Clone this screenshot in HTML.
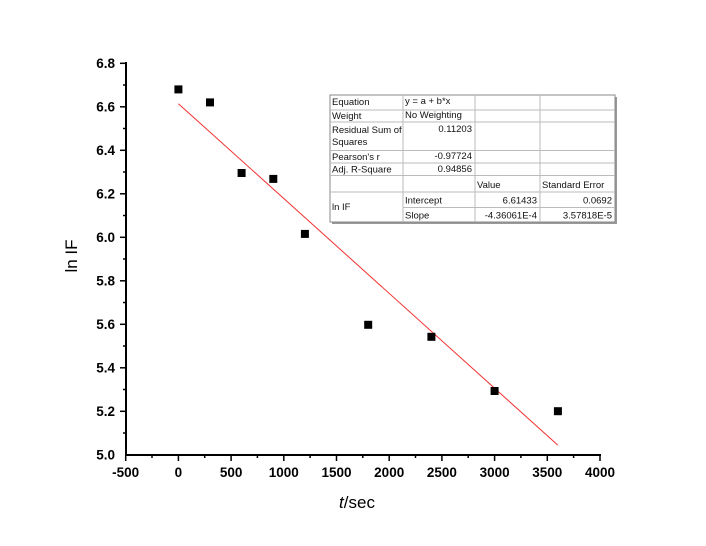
<!DOCTYPE html>
<html><head><style>
body{margin:0;background:#fff;}
svg{display:block;font-family:"Liberation Sans",Arial,sans-serif;}
.t{font-size:13.5px;font-weight:bold;fill:#000;}
.s{font-size:9.5px;fill:#111;}
</style></head><body>
<svg width="706" height="546" viewBox="0 0 706 546">
<rect width="706" height="546" fill="#fff"/>
<g stroke="#000" stroke-width="2">
<line x1="126" y1="62" x2="126" y2="455.5"/>
<line x1="125" y1="455" x2="601" y2="455"/>
</g>
<g stroke="#000" stroke-width="1.5" id="ticks">
<!-- y major -->
<line x1="120" y1="63.3" x2="126" y2="63.3"/><line x1="120" y1="106.8" x2="126" y2="106.8"/>
<line x1="120" y1="150.3" x2="126" y2="150.3"/><line x1="120" y1="193.8" x2="126" y2="193.8"/>
<line x1="120" y1="237.3" x2="126" y2="237.3"/><line x1="120" y1="280.8" x2="126" y2="280.8"/>
<line x1="120" y1="324.3" x2="126" y2="324.3"/><line x1="120" y1="367.8" x2="126" y2="367.8"/>
<line x1="120" y1="411.3" x2="126" y2="411.3"/>
<!-- y minor -->
<line x1="123" y1="85" x2="126" y2="85"/><line x1="123" y1="128.5" x2="126" y2="128.5"/>
<line x1="123" y1="172" x2="126" y2="172"/><line x1="123" y1="215.5" x2="126" y2="215.5"/>
<line x1="123" y1="259" x2="126" y2="259"/><line x1="123" y1="302.5" x2="126" y2="302.5"/>
<line x1="123" y1="346" x2="126" y2="346"/><line x1="123" y1="389.5" x2="126" y2="389.5"/>
<line x1="123" y1="433" x2="126" y2="433"/>
<!-- x major -->
<line x1="125.7" y1="455" x2="125.7" y2="461"/><line x1="178.4" y1="455" x2="178.4" y2="461"/>
<line x1="231.1" y1="455" x2="231.1" y2="461"/><line x1="283.8" y1="455" x2="283.8" y2="461"/>
<line x1="336.5" y1="455" x2="336.5" y2="461"/><line x1="389.2" y1="455" x2="389.2" y2="461"/>
<line x1="441.9" y1="455" x2="441.9" y2="461"/><line x1="494.6" y1="455" x2="494.6" y2="461"/>
<line x1="547.3" y1="455" x2="547.3" y2="461"/><line x1="600" y1="455" x2="600" y2="461"/>
<!-- x minor -->
<line x1="152" y1="455" x2="152" y2="458"/><line x1="204.7" y1="455" x2="204.7" y2="458"/>
<line x1="257.4" y1="455" x2="257.4" y2="458"/><line x1="310.1" y1="455" x2="310.1" y2="458"/>
<line x1="362.8" y1="455" x2="362.8" y2="458"/><line x1="415.5" y1="455" x2="415.5" y2="458"/>
<line x1="468.2" y1="455" x2="468.2" y2="458"/><line x1="520.9" y1="455" x2="520.9" y2="458"/>
<line x1="573.6" y1="455" x2="573.6" y2="458"/>
</g>
<g class="t" text-anchor="end">
<text x="115" y="68">6.8</text><text x="115" y="111.5">6.6</text><text x="115" y="155">6.4</text>
<text x="115" y="198.5">6.2</text><text x="115" y="242">6.0</text><text x="115" y="285.5">5.8</text>
<text x="115" y="329">5.6</text><text x="115" y="372.5">5.4</text><text x="115" y="416">5.2</text>
<text x="115" y="459.5">5.0</text>
</g>
<g class="t" text-anchor="middle">
<text x="125.7" y="477">-500</text><text x="178.4" y="477">0</text><text x="231.1" y="477">500</text>
<text x="283.8" y="477">1000</text><text x="336.5" y="477">1500</text><text x="389.2" y="477">2000</text>
<text x="441.9" y="477">2500</text><text x="494.6" y="477">3000</text><text x="547.3" y="477">3500</text>
<text x="600" y="477">4000</text>
</g>
<text x="357" y="508" text-anchor="middle" font-size="17"><tspan font-style="italic">t</tspan>/sec</text>
<text transform="translate(77,256) rotate(-90)" text-anchor="middle" font-size="17">ln IF</text>
<line x1="178.4" y1="103.7" x2="557.8" y2="445.1" stroke="#f03030" stroke-width="1"/>
<g fill="#000">
<rect x="174.4" y="85.4" width="8" height="8"/><rect x="206" y="98.4" width="8" height="8"/>
<rect x="237.6" y="169" width="8" height="8"/><rect x="269.3" y="174.9" width="8" height="8"/>
<rect x="300.9" y="229.9" width="8" height="8"/><rect x="364.2" y="320.8" width="8" height="8"/>
<rect x="427.4" y="332.8" width="8" height="8"/><rect x="490.6" y="387" width="8" height="8"/>
<rect x="553.9" y="407.2" width="8" height="8"/>
</g>
<!-- table -->
<rect x="332" y="97" width="285" height="127" fill="#999"/>
<rect x="330" y="95" width="285" height="127" fill="#fff" stroke="#888" stroke-width="1"/>
<g stroke="#bbb" stroke-width="1">
<line x1="330" y1="110" x2="615" y2="110"/><line x1="330" y1="122" x2="615" y2="122"/>
<line x1="330" y1="150.5" x2="615" y2="150.5"/><line x1="330" y1="163" x2="615" y2="163"/>
<line x1="330" y1="175.5" x2="615" y2="175.5"/><line x1="330" y1="192" x2="615" y2="192"/>
<line x1="403" y1="207.5" x2="615" y2="207.5"/>
<line x1="403" y1="95" x2="403" y2="222"/><line x1="475" y1="95" x2="475" y2="222"/>
<line x1="540" y1="95" x2="540" y2="222"/>
</g>
<g class="s">
<text x="332" y="105">Equation</text><text x="405" y="104">y = a + b*x</text>
<text x="332" y="119">Weight</text><text x="405" y="118">No Weighting</text>
<text x="332" y="133">Residual Sum of</text><text x="332" y="145">Squares</text>
<text x="332" y="160">Pearson's r</text><text x="332" y="172.5">Adj. R-Square</text>
<text x="332" y="210">ln IF</text>
<text x="405" y="203.5">Intercept</text><text x="405" y="218.5">Slope</text>
<text x="477" y="188">Value</text><text x="542" y="188">Standard Error</text>
</g>
<g class="s" text-anchor="end">
<text x="472" y="132">0.11203</text><text x="472" y="159">-0.97724</text><text x="472" y="172">0.94856</text>
<text x="537" y="203.5">6.61433</text><text x="537" y="218.5">-4.36061E-4</text>
<text x="612" y="203.5">0.0692</text><text x="612" y="218.5">3.57818E-5</text>
</g>
</svg>
</body></html>
